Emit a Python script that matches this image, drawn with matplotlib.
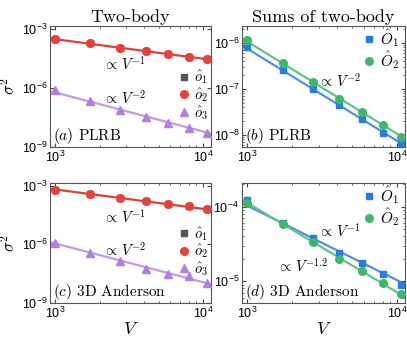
import numpy as np
import matplotlib
matplotlib.use('Agg')
import matplotlib.pyplot as plt

plt.rcParams['font.family'] = ['Liberation Sans', 'DejaVu Sans']
plt.rcParams['mathtext.fontset'] = 'cm'

# system sizes V = L^3, L = 10..22
V = [1000, 1728, 2744, 4096, 5832, 8000, 10648]

# log10 of variances
# (a) PLRB, two-body
a_o2 = [-3.50, -3.73, -3.96, -4.13, -4.27, -4.42, -4.55]
a_o3 = [-6.13, -6.69, -7.12, -7.50, -7.79, -8.04, -8.32]
# (b) PLRB, sums of two-body
b_O1 = [-6.10, -6.59, -7.01, -7.36, -7.66, -7.95, -8.18]
b_O2 = [-5.95, -6.44, -6.85, -7.21, -7.51, -7.78, -8.04]
# (c) 3D Anderson, two-body
c_o2 = [-3.19, -3.41, -3.63, -3.79, -3.94, -4.04, -4.18]
c_o3 = [-5.92, -6.44, -6.86, -7.26, -7.51, -7.63, -8.01]
# (d) 3D Anderson, sums of two-body
d_O1 = [-3.91, -4.22, -4.42, -4.62, -4.76, -4.91, -5.05]
d_O2 = [-3.95, -4.23, -4.47, -4.70, -4.87, -5.03, -5.17]

RED, RED_L = '#ec3f3a', '#d9423f'
PUR, PUR_L = '#b07fe4', '#c39ae9'
BLU, BLU_L = '#2b7ce0', '#4a92ea'
GRN, GRN_L = '#3db86b', '#5ec48a'
GRAY = '#555555'
CM = 'cmr10'

xlim = (925, 11300)
xfit = np.array(xlim)


def fit_line(ax, y, expo, color):
    # power law with fixed exponent, intercept from the data
    lv = np.log10(V)
    c = np.mean(np.array(y) - expo * lv)
    ax.plot(xfit, 10 ** (c + expo * np.log10(xfit)), color=color, lw=1.6, zorder=1)


def style(ax, ylim):
    ax.set_xscale('log')
    ax.set_yscale('log')
    ax.set_xlim(*xlim)
    ax.set_ylim(*ylim)
    ax.tick_params(which='both', direction='in', top=True, right=True,
                   labelsize=9, color='#444444', pad=2)
    ax.tick_params(which='major', length=3)
    ax.tick_params(which='minor', length=1.5)
    for s in ax.spines.values():
        s.set_color('#555555')
        s.set_linewidth(0.8)


def note(ax, x, y, s, **kw):
    ax.text(x, y, s, transform=ax.transAxes, fontsize=10.5, va='center',
            ha='left', **kw)


fig = plt.figure(figsize=(4.07, 3.38), dpi=100)
W, H = 407, 338


def add_ax(l, t, r, b):
    return fig.add_axes([l / W, 1 - b / H, (r - l) / W, (b - t) / H])


axa = add_ax(50, 26, 211, 147)
axb = add_ax(242, 26, 405, 147)
axc = add_ax(50, 183, 211, 303)
axd = add_ax(242, 183, 405, 303)

# two-body panels
for ax, o2, o3, lab in [(axa, a_o2, a_o3, r'$(a)$ PLRB'),
                        (axc, c_o2, c_o3, r'$(c)$ 3D Anderson')]:
    style(ax, (0.95e-9, 1.45e-3))
    fit_line(ax, o2, -1, RED_L)
    fit_line(ax, o3, -2, PUR_L)
    ax.plot(V, 10 ** np.array(o2), 's', color=GRAY, ms=5, label=r'$\hat{o}_1$', zorder=2)
    ax.plot(V, 10 ** np.array(o2), 'o', color=RED, ms=5.5, label=r'$\hat{o}_2$', zorder=3)
    ax.plot(V, 10 ** np.array(o3), '^', color=PUR, ms=5.5, label=r'$\hat{o}_3$', zorder=3)
    ax.set_yticks([1e-9, 1e-6, 1e-3])
    ax.set_ylabel(r'$\sigma^2$', fontsize=12)
    ax.yaxis.set_label_coords(-0.195, 0.5)
    ax.legend(loc='center right', bbox_to_anchor=(1.04, 0.43), frameon=False,
              fontsize=10.5, handlelength=0.8, handletextpad=0.3, labelspacing=0.0,
              borderpad=0.1)
    ax.text(0.02, 0.09, lab, transform=ax.transAxes, fontsize=11, family=CM,
            va='center', ha='left')

note(axa, 0.33, 0.69, r'$\propto\, V^{-1}$')
note(axa, 0.33, 0.41, r'$\propto\, V^{-2}$')
note(axc, 0.33, 0.715, r'$\propto\, V^{-1}$')
note(axc, 0.33, 0.44, r'$\propto\, V^{-2}$')

# sums of two-body panels
style(axb, (5.5e-9, 2.3e-6))
fit_line(axb, b_O1, -2, BLU_L)
fit_line(axb, b_O2, -2, GRN_L)
axb.plot(V, 10 ** np.array(b_O1), 's', color=BLU, ms=5, label=r'$\hat{O}_1$', zorder=3)
axb.plot(V, 10 ** np.array(b_O2), 'o', color=GRN, ms=5.5, label=r'$\hat{O}_2$', zorder=3)
note(axb, 0.465, 0.55, r'$\propto\, V^{-2}$')
axb.text(0.02, 0.09, r'$(b)$ PLRB', transform=axb.transAxes, fontsize=11, family=CM,
         va='center', ha='left')

style(axd, (5.1e-6, 2.07e-4))
fit_line(axd, d_O1, -1, BLU_L)
fit_line(axd, d_O2, -1.2, GRN_L)
axd.plot(V, 10 ** np.array(d_O1), 's', color=BLU, ms=5, label=r'$\hat{O}_1$', zorder=3)
axd.plot(V, 10 ** np.array(d_O2), 'o', color=GRN, ms=5.5, label=r'$\hat{O}_2$', zorder=3)
note(axd, 0.465, 0.60, r'$\propto\, V^{-1}$')
note(axd, 0.215, 0.31, r'$\propto\, V^{-1.2}$')
axd.text(0.02, 0.09, r'$(d)$ 3D Anderson', transform=axd.transAxes, fontsize=11,
         family=CM, va='center', ha='left')

for ax in (axb, axd):
    ax.legend(loc='upper right', bbox_to_anchor=(1.03, 1.08), frameon=False,
              fontsize=11, handlelength=0.8, handletextpad=0.3, labelspacing=0.0,
              borderpad=0.2)

for ax in (axc, axd):
    ax.set_xlabel(r'$V$', fontsize=13, labelpad=0)

axa.set_title('Two-body', family=CM, fontsize=13, pad=3)
axb.set_title('Sums of two-body', family=CM, fontsize=13, pad=3)

fig.savefig('out.png', dpi=100)
